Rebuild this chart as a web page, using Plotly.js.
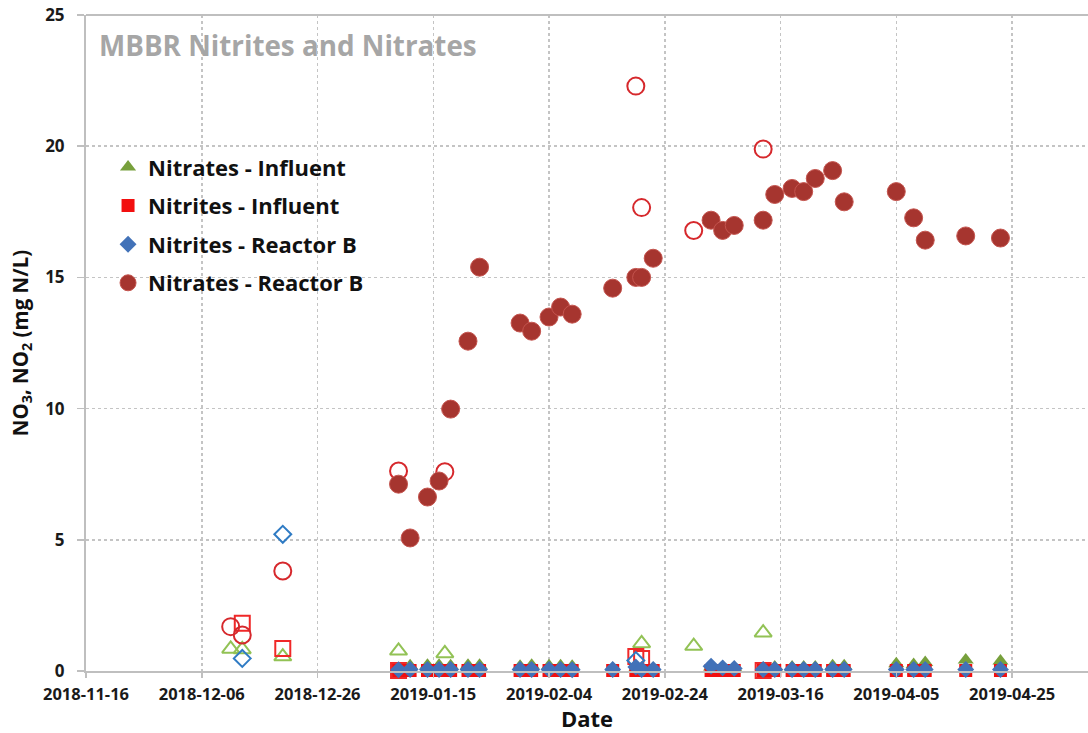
<!DOCTYPE html>
<html>
<head>
<meta charset="utf-8">
<script src="https://cdn.plot.ly/plotly-3.0.1.min.js"></script>
<style>html,body{margin:0;padding:0;background:#fff;}#chart{width:1088px;height:733px;}</style>
</head>
<body>
<div id="chart"></div>
<script>
// Sampling dates (filled markers)
const sampleDates = ['2019-01-09','2019-01-11','2019-01-14','2019-01-16','2019-01-18','2019-01-21','2019-01-23',
  '2019-01-30','2019-02-01','2019-02-04','2019-02-06','2019-02-08','2019-02-15','2019-02-19','2019-02-20','2019-02-22',
  '2019-03-04','2019-03-06','2019-03-08','2019-03-13','2019-03-15','2019-03-18','2019-03-20','2019-03-22','2019-03-25','2019-03-27',
  '2019-04-05','2019-04-08','2019-04-10','2019-04-17','2019-04-23'];
const nitratesInfluent = [null,0.2,0.22,0.22,0.2,0.22,0.22,0.18,0.22,0.2,0.2,0.18,0.1,0.1,0.1,0.1,
  0.15,0.15,0.12,0.1,0.15,0.15,0.15,0.15,0.2,0.2,0.28,0.25,0.32,0.42,0.38];
const nitritesInfluent = [0.02,0.02,0.02,0.02,0.02,0.02,0.02,0.02,0.02,0.02,0.02,0.02,0.02,0.02,0.02,0.02,
  0.02,0.02,0.02,0.02,0.02,0.02,0.02,0.02,0.02,0.02,0.02,0.02,0.02,0.02,0.02];
const nitritesReactorB = [0.05,0.06,0.06,0.06,0.06,0.06,0.06,0.06,0.06,0.06,0.06,0.05,0.06,0.15,0.06,0.06,
  0.18,0.12,0.1,0.06,0.06,0.06,0.06,0.06,0.06,0.06,0.06,0.06,0.06,0.06,0.06];
const nitratesReactorB = [7.12,5.07,6.63,7.24,9.98,12.57,15.39,13.26,12.95,13.49,13.87,13.6,14.59,15.0,15.0,15.73,
  17.18,16.79,16.98,17.18,18.16,18.39,18.27,18.77,19.07,17.88,18.27,17.27,16.42,16.58,16.5];

// Flagged samples (open markers, not in legend)
const flagNitratesReactorBDates = ['2018-12-11','2018-12-13','2018-12-20','2019-01-09','2019-01-17','2019-02-19','2019-02-20','2019-03-01','2019-03-13'];
const flagNitratesReactorB = [1.69,1.37,3.81,7.62,7.59,22.29,17.66,16.79,19.89];
const flagNitratesInfluentDates = ['2018-12-11','2018-12-13','2018-12-20','2019-01-09','2019-01-17','2019-02-20','2019-03-01','2019-03-13'];
const flagNitratesInfluent = [0.84,0.82,0.55,0.77,0.67,1.05,0.95,1.46];
const flagNitritesInfluentDates = ['2018-12-13','2018-12-20','2019-01-09','2019-02-19','2019-02-20','2019-03-13'];
const flagNitritesInfluent = [1.82,0.86,0.02,0.55,0.48,0.02];
const flagNitritesReactorBDates = ['2018-12-13','2018-12-20','2019-02-19'];
const flagNitritesReactorB = [0.48,5.21,0.4];

const seriesNames = ['Nitrates - Influent','Nitrites - Influent','Nitrites - Reactor B','Nitrates - Reactor B'];
const yTickVals = [0,5,10,15,20,25];

const FONT = 'Open Sans, Liberation Sans, Arial, sans-serif';

const traces = [
  {x: flagNitratesInfluentDates, y: flagNitratesInfluent, type:'scatter', mode:'markers', showlegend:false, cliponaxis:false,
   marker:{symbol:'triangle-up-open', size:15, color:'#92C255', line:{width:2}}},
  {x: flagNitritesInfluentDates, y: flagNitritesInfluent, type:'scatter', mode:'markers', showlegend:false, cliponaxis:false,
   marker:{symbol:'square-open', size:15, color:'#F02828', line:{width:2}}},
  {x: flagNitritesReactorBDates, y: flagNitritesReactorB, type:'scatter', mode:'markers', showlegend:false, cliponaxis:false,
   marker:{symbol:'diamond-open', size:13, color:'#2F7BC4', line:{width:2}}},
  {x: flagNitratesReactorBDates, y: flagNitratesReactorB, type:'scatter', mode:'markers', showlegend:false, cliponaxis:false,
   marker:{symbol:'circle-open', size:17, color:'#D6282C', line:{width:2}}},

  {x: sampleDates, y: nitratesInfluent, name: '<b>'+seriesNames[0]+'</b>', legendgroup:'a', type:'scatter', mode:'markers', cliponaxis:false,
   marker:{symbol:'triangle-up', size:14, color:'#77A03C'}},
  {x: sampleDates, y: nitritesInfluent, name: '<b>'+seriesNames[1]+'</b>', legendgroup:'b', type:'scatter', mode:'markers', cliponaxis:false,
   marker:{symbol:'square', size:13, color:'#F20F0F'}},
  {x: sampleDates, y: nitritesReactorB, name: '<b>'+seriesNames[2]+'</b>', legendgroup:'c', type:'scatter', mode:'markers', cliponaxis:false,
   marker:{symbol:'diamond', size:13, color:'#4272B8'}},
  {x: sampleDates, y: nitratesReactorB, name: '<b>'+seriesNames[3]+'</b>', legendgroup:'d', type:'scatter', mode:'markers', cliponaxis:false,
   marker:{symbol:'circle', size:18, color:'#A6352F', line:{color:'#C4544E', width:1}}}
];

const layout = {
  width: 1088, height: 733,
  margin: {l: 86, r: 0, t: 15, b: 62},
  paper_bgcolor: '#ffffff', plot_bgcolor: '#ffffff',
  font: {family: FONT, color: '#1a1a1a'},
  showlegend: true,
  legend: {x: 0.022, y: 0.80, xanchor: 'left', yanchor: 'top', bgcolor: 'rgba(0,0,0,0)',
           font: {family: FONT, size: 22, color: '#111111'}, tracegroupgap: 7, traceorder: 'grouped'},
  xaxis: {
    type: 'date', range: ['2018-11-16', '2019-05-08 03:00'],
    tick0: '2018-11-16', dtick: 20 * 86400000, tickformat: '%Y-%m-%d',
    tickfont: {family: FONT, size: 16.5, color: '#1a1a1a', weight: 'bold'},
    ticks: 'outside', ticklen: 5, tickcolor: '#BFBFBF', tickwidth: 1.5, ticklabelstandoff: 2,
    showgrid: true, gridcolor: '#C4C4C4', griddash: 'dot', gridwidth: 1.5,
    showline: true, linecolor: '#BFBFBF', linewidth: 2, zeroline: false,
    title: {text: '<b>Date</b>', font: {family: FONT, size: 22, color: '#111111'}, standoff: 13}
  },
  yaxis: {
    range: [0, 25], tickvals: yTickVals,
    tickfont: {family: FONT, size: 17, color: '#1a1a1a', weight: 'bold'},
    ticks: 'outside', ticklen: 7, tickcolor: '#BFBFBF', tickwidth: 1.5, ticklabelstandoff: 9,
    showgrid: true, gridcolor: '#C4C4C4', griddash: 'dot', gridwidth: 1.5,
    showline: true, linecolor: '#BFBFBF', linewidth: 2, zeroline: false,
    title: {text: '<b>NO<sub>3</sub>, NO<sub>2</sub> (mg N/L)</b>', font: {family: FONT, size: 20.5, color: '#111111'}, standoff: 11}
  },
  shapes: [
    {type: 'line', xref: 'paper', yref: 'paper', x0: 0, x1: 1, y0: 1, y1: 1, line: {color: '#BFBFBF', width: 2}}
  ],
  annotations: [
    {text: '<b>MBBR Nitrites and Nitrates</b>', xref: 'paper', yref: 'paper', x: 0.011, y: 0.954,
     xanchor: 'left', yanchor: 'middle', showarrow: false,
     font: {family: FONT, size: 27.8, color: '#A6A6A6'}}
  ]
};

Plotly.newPlot('chart', traces, layout, {displayModeBar: false, staticPlot: true});
</script>
</body>
</html>
